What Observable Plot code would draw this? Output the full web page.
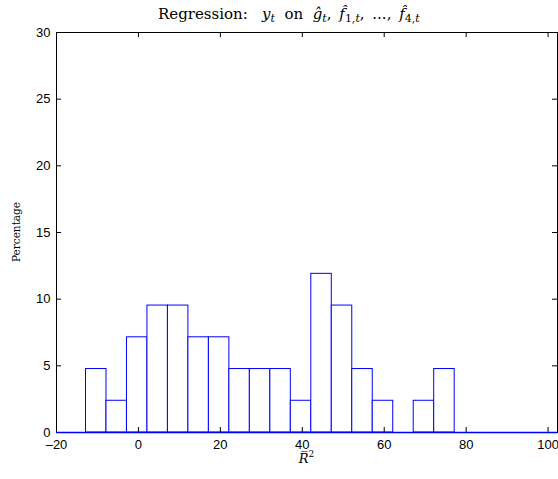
<!DOCTYPE html>
<html><head><meta charset="utf-8">
<script src="https://cdn.jsdelivr.net/npm/d3@7"></script>
<script src="https://cdn.jsdelivr.net/npm/@observablehq/plot@0.6"></script>
<style>body{margin:0;background:#fff} #chart{width:558px;height:479px}</style>
</head><body><div id="chart"></div>
<script>
// Histogram bin edges (R-bar^2, %) and bar heights (percentage of 42 regressions)
const binEdges = [-22.8, -17.8, -12.8, -7.8, -2.8, 2.2, 7.2, 12.2, 17.2, 22.2, 27.2, 32.2, 37.2, 42.2, 47.2, 52.2, 57.2, 62.2, 67.2, 72.2, 77.2, 82.2, 87.2, 92.2, 97.2, 102.2, 107.2];
const percentages = [0, 0, 4.76, 2.38, 7.14, 9.52, 9.52, 7.14, 7.14, 4.76, 4.76, 4.76, 2.38, 11.90, 9.52, 4.76, 2.38, 0, 2.38, 4.76, 0, 0, 0, 0, 0, 0];
const xTicks = [-20, 0, 20, 40, 60, 80, 100];
const yTicks = [0, 5, 10, 15, 20, 25, 30];

const bins = percentages.map((p, i) => ({x1: binEdges[i], x2: binEdges[i + 1], pct: p}));

const W = 558, H = 479, mL = 56, mR = 1, mT = 32, mB = 47;
const iw = W - mL - mR, ih = H - mT - mB, tk = 5;
const blue = "#0000ff";

const plot = Plot.plot({
  width: W, height: H,
  marginLeft: mL, marginRight: mR, marginTop: mT, marginBottom: mB,
  style: {background: "white", fontFamily: "'Liberation Sans', Arial, sans-serif", fontSize: "13px", color: "black", overflow: "visible"},
  x: {domain: [-20, 102.3]},
  y: {domain: [0, 30]},
  marks: [
    Plot.rect(bins, {x1: "x1", x2: "x2", y1: 0, y2: "pct", fill: "white", stroke: blue, strokeWidth: 1, clip: true}),
    Plot.ruleX(xTicks, {insetTop: ih - tk, stroke: "black"}),
    Plot.ruleX(xTicks, {insetBottom: ih - tk, stroke: "black"}),
    Plot.ruleY(yTicks, {insetRight: iw - tk, stroke: "black"}),
    Plot.ruleY(yTicks, {insetLeft: iw - tk, stroke: "black"}),
    Plot.frame({stroke: "black"}),
    Plot.ruleY([0], {stroke: blue, strokeWidth: 1.5}),
    Plot.axisX({ticks: xTicks, tickSize: 0, tickPadding: 7, label: null, fill: "black",
      tickFormat: d => d < 0 ? "\u2013" + Math.abs(d) : String(d)}),
    Plot.axisY({ticks: yTicks, tickSize: 0, tickPadding: 6, label: null, fill: "black"})
  ]
});

const svg = d3.select(plot);
const serif = "'DejaVu Serif', 'Liberation Serif', serif";

// Title with math
const titleParts = [
  {t: "Regression:\u00a0\u00a0 ", i: false},
  {t: "y", i: true}, {t: "t", i: true, sub: true},
  {t: "\u00a0 on\u00a0 ", i: false},
  {t: "g\u0302", i: true}, {t: "t", i: true, sub: true},
  {t: ", \u2009", i: false},
  {t: "f\u0302", i: true}, {t: "1,", i: false, sub: true}, {t: "t", i: true, sub: true, cont: true},
  {t: ", \u2009..., \u2009", i: false},
  {t: "f\u0302", i: true}, {t: "4,", i: false, sub: true}, {t: "t", i: true, sub: true, cont: true}
];
const title = svg.append("text")
  .attr("x", 158).attr("y", 19)
  .attr("text-anchor", "start")
  .attr("font-family", serif).attr("font-size", 15).attr("fill", "black");
let shifted = false;
titleParts.forEach(p => {
  const ts = title.append("tspan").text(p.t);
  if (p.i) ts.attr("font-style", "italic");
  if (p.sub) { ts.attr("font-size", 11); if (!p.cont) ts.attr("dy", 3); shifted = true; }
  else if (shifted) { ts.attr("dy", -3); shifted = false; }
});

// Y label
svg.append("text")
  .attr("transform", `translate(20,${mT + ih / 2}) rotate(-90)`)
  .attr("text-anchor", "middle")
  .attr("font-family", serif).attr("font-size", 10.5).attr("fill", "black")
  .text("Percentage");

// X label R-bar squared
const xl = svg.append("text")
  .attr("x", mL + iw / 2).attr("y", 463)
  .attr("text-anchor", "middle")
  .attr("font-family", serif).attr("font-size", 13).attr("fill", "black");
xl.append("tspan").attr("font-style", "italic").text("R\u0305");
xl.append("tspan").attr("dy", -6).attr("font-size", 9).text("2");

document.getElementById("chart").appendChild(plot);
</script>
</body></html>
